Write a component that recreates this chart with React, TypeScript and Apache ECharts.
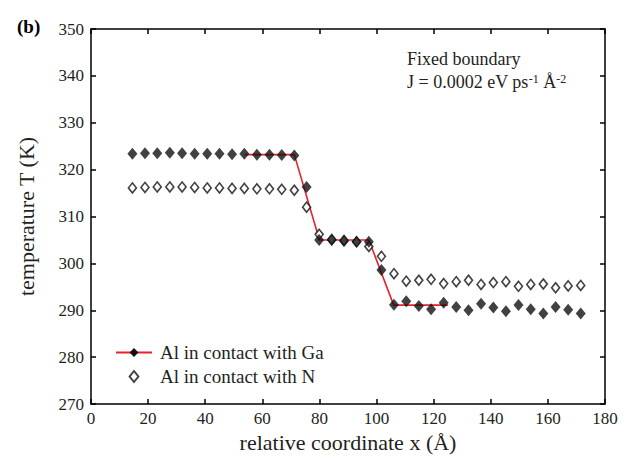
import React, { useEffect, useRef } from "react";
import * as echarts from "echarts";

const xPositions = [14.5, 18.9, 23.2, 27.6, 31.9, 36.3, 40.7, 45.0, 49.4, 53.7, 58.1, 62.5, 66.8, 71.2, 75.5, 79.9, 84.3, 88.6, 93.0, 97.3, 101.7, 106.1, 110.4, 114.8, 119.1, 123.5, 127.9, 132.2, 136.6, 140.9, 145.3, 149.7, 154.0, 158.4, 162.7, 167.1, 171.5];
const tempGa = [323.4, 323.5, 323.5, 323.6, 323.5, 323.4, 323.4, 323.4, 323.3, 323.4, 323.2, 323.2, 323.1, 323.0, 316.3, 305.0, 305.0, 304.8, 304.6, 304.6, 298.6, 291.2, 291.9, 290.9, 290.2, 291.6, 290.7, 290.0, 291.4, 290.6, 289.8, 291.1, 290.2, 289.3, 290.7, 290.1, 289.3];
const tempN = [316.1, 316.2, 316.3, 316.3, 316.3, 316.2, 316.1, 316.1, 316.0, 316.0, 315.9, 315.9, 315.8, 315.6, 312.0, 306.2, 305.1, 304.9, 304.6, 303.6, 301.5, 297.8, 296.2, 296.4, 296.6, 295.7, 296.1, 296.4, 295.5, 295.9, 296.1, 295.1, 295.5, 295.6, 294.8, 295.2, 295.3];
const fitX = [54.0, 71.2, 80.0, 97.3, 106.0, 125.0];
const fitT = [323.2, 323.2, 305.0, 305.0, 291.1, 291.1];

const xTicks = { min: 0, max: 180, interval: 20 };
const yTicks = { min: 270, max: 350, interval: 10 };

const FONT = "'Liberation Serif', 'Times New Roman', serif";
const TXT = "#231f20";

export default function App() {
  const ref = useRef<HTMLDivElement>(null);
  useEffect(() => {
    if (!ref.current) return;
    const chart = echarts.init(ref.current, undefined, { renderer: "svg" });
    const axisLine = { show: true, onZero: false, lineStyle: { color: "#000", width: 1.5 } };
    const axisTick = { show: true, inside: true, length: 5, lineStyle: { color: "#000", width: 1.5 } };
    const gaData = xPositions.map((x, i) => [x, tempGa[i]]);
    const nData = xPositions.map((x, i) => [x, tempN[i]]);
    const fitData = fitX.map((x, i) => [x, fitT[i]]);
    chart.setOption({
      animation: false,
      backgroundColor: "#fff",
      textStyle: { fontFamily: FONT },
      grid: { left: 91, right: 22, top: 29, bottom: 55, containLabel: false },
      xAxis: [
        {
          type: "value", position: "bottom", ...xTicks,
          axisLine, axisTick,
          splitLine: { show: false },
          axisLabel: { color: TXT, fontSize: 17, fontFamily: FONT, margin: 6 },
          name: "relative coordinate x (Å)", nameLocation: "middle", nameGap: 19,
          nameTextStyle: { color: TXT, fontSize: 22, fontFamily: FONT },
        },
        {
          type: "value", position: "top", ...xTicks,
          axisLine, axisTick,
          splitLine: { show: false }, axisLabel: { show: false },
        },
      ],
      yAxis: [
        {
          type: "value", position: "left", ...yTicks,
          axisLine, axisTick,
          splitLine: { show: false },
          axisLabel: { color: TXT, fontSize: 17, fontFamily: FONT, margin: 7 },
          name: "temperature T (K)", nameLocation: "middle", nameGap: 54,
          nameTextStyle: { color: TXT, fontSize: 22, fontFamily: FONT },
        },
        {
          type: "value", position: "right", ...yTicks,
          axisLine, axisTick,
          splitLine: { show: false }, axisLabel: { show: false },
        },
      ],
      legend: {
        data: [
          { name: "Al in contact with Ga" },
          { name: "Al in contact with N", icon: "path://M0,-5L4,0L0,5L-4,0Z" },
        ],
        orient: "vertical",
        left: 110, top: 338,
        itemWidth: 36, itemHeight: 11, itemGap: 5,
        symbolKeepAspect: true,
        textStyle: { color: TXT, fontSize: 19, fontFamily: FONT, padding: [0, 0, 0, 3] },
      },
      series: [
        {
          name: "Al in contact with Ga", type: "line", data: fitData,
          showSymbol: false, symbol: "diamond", symbolSize: [9, 11],
          itemStyle: { color: "#111" },
          lineStyle: { color: "#e8202a", width: 1.6 },
          z: 1, silent: true,
        },
        {
          name: "Al in contact with N", type: "scatter", data: nData,
          symbol: "diamond", symbolSize: [8, 10],
          itemStyle: { color: "#fff", borderColor: "#111", borderWidth: 1.6 },
          z: 2,
        },
        {
          name: "Ga points", type: "scatter", data: gaData,
          symbol: "diamond", symbolSize: [10, 12],
          itemStyle: { color: "#111" },
          z: 3,
        },
      ],
      graphic: [
        {
          type: "text", left: 17, top: 17,
          style: { text: "(b)", font: `bold 19px ${FONT}`, fill: "#000" },
        },
        {
          type: "text", left: 407, top: 50,
          style: { text: "Fixed boundary", font: `18px ${FONT}`, fill: TXT },
        },
        {
          type: "text", left: 407, top: 73,
          style: {
            text: "{a|J = 0.0002 eV ps}{s|-1}{a| Å}{s|-2}",
            font: `18px ${FONT}`, fill: TXT,
            rich: {
              a: { fontSize: 18, fontFamily: FONT, color: TXT },
              s: { fontSize: 12, fontFamily: FONT, color: TXT, verticalAlign: "top" },
            },
          },
        },
      ],
    });
    return () => chart.dispose();
  }, []);
  return <div ref={ref} style={{ position: "absolute", left: 0, top: 0, width: 627, height: 459 }} />;
}
